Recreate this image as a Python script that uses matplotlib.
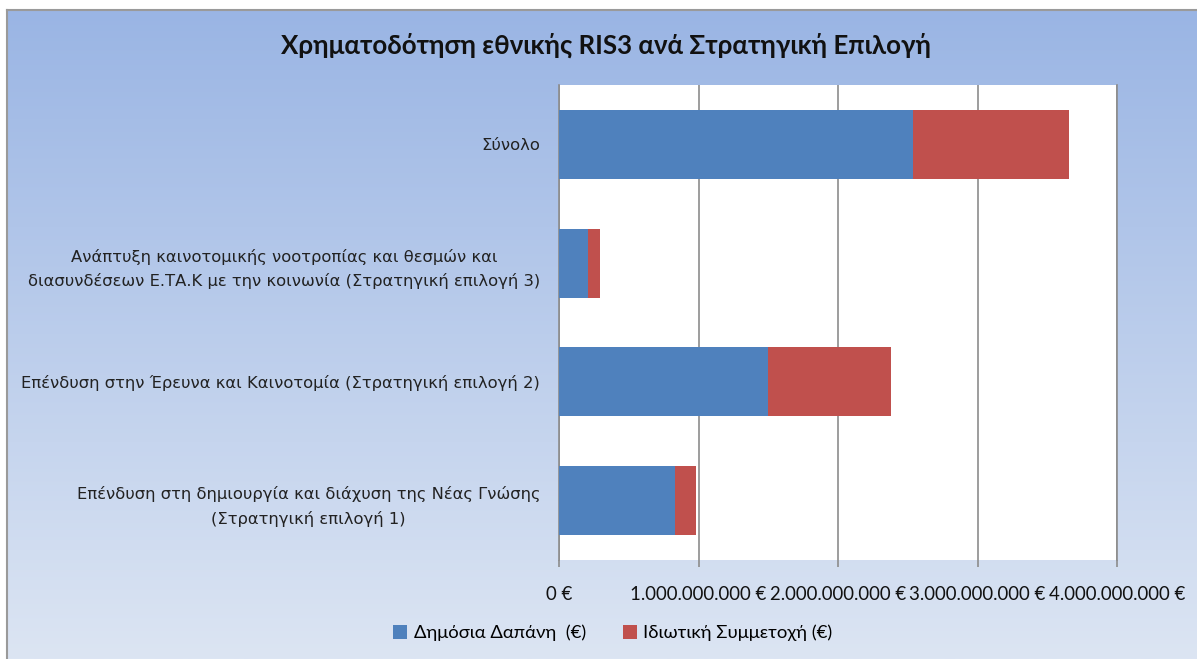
import numpy as np
import matplotlib
matplotlib.use("Agg")
import matplotlib.pyplot as plt
from matplotlib.ticker import FuncFormatter
from matplotlib.patches import Patch

# Funding per strategic choice (euro), listed bottom to top
categories = [
    "Επένδυση στη δημιουργία και διάχυση της Νέας Γνώσης\n(Στρατηγική επιλογή 1)",
    "Επένδυση στην Έρευνα και Καινοτομία (Στρατηγική επιλογή 2)",
    "Ανάπτυξη καινοτομικής νοοτροπίας και θεσμών και\nδιασυνδέσεων Ε.ΤΑ.Κ με την κοινωνία (Στρατηγική επιλογή 3)",
    "Σύνολο",
]
public_spending = [0.832e9, 1.500e9, 0.207e9, 2.539e9]
private_share = [0.152e9, 0.880e9, 0.086e9, 1.118e9]
x_ticks = [0, 1e9, 2e9, 3e9, 4e9]

series_names = ["Δημόσια Δαπάνη  (€)", "Ιδιωτική Συμμετοχή (€)"]
series_colors = ["#4F81BD", "#C0504D"]

W, H = 1197, 659
fig = plt.figure(figsize=(W / 100, H / 100), dpi=100, facecolor="white")

# Gradient backdrop of the chart area
bg = fig.add_axes([7 / W, 0, 1 - 7 / W, 1 - 10 / H])
grad = np.linspace(0, 1, 256).reshape(-1, 1)
top = np.array([0x9A, 0xB5, 0xE4]) / 255
bot = np.array([0xDC, 0xE5, 0xF3]) / 255
img = top[None, None, :] * (1 - grad[:, :, None]) + bot[None, None, :] * grad[:, :, None]
bg.imshow(img, aspect="auto", extent=[0, 1, 0, 1], origin="upper")
bg.set_xticks([])
bg.set_yticks([])
for side in ("right", "bottom"):
    bg.spines[side].set_visible(False)
for side in ("left", "top"):
    bg.spines[side].set_color("#9A9A9A")
    bg.spines[side].set_linewidth(1.5)

# Plot area
ax = fig.add_axes([559 / W, 1 - 560 / H, (1117 - 559) / W, (560 - 85) / H])
ax.set_facecolor("white")
y = np.arange(len(categories))
ax.barh(y, public_spending, height=0.58, color=series_colors[0], zorder=3)
ax.barh(y, private_share, left=public_spending, height=0.58, color=series_colors[1], zorder=3)

ax.set_xlim(0, 4e9)
ax.set_ylim(-0.5, len(categories) - 0.5)
ax.set_xticks(x_ticks)


def euro(v, _):
    if v == 0:
        return "0 €"
    return f"{int(v):,}".replace(",", ".") + " €"


ax.xaxis.set_major_formatter(FuncFormatter(euro))
ax.grid(axis="x", color="#8C8C8C", linewidth=1.2, zorder=0)
ax.set_yticks(y)
ax.set_yticklabels(categories, fontsize=11.8, family="DejaVu Sans", color="#222222",
                   linespacing=1.65, ha="right", multialignment="center")
ax.tick_params(axis="y", length=0, pad=13.5)
ax.tick_params(axis="x", length=5, color="#8C8C8C", width=1.2, pad=14,
               labelsize=13.4, labelcolor="#111111")
for lab in ax.get_xticklabels():
    lab.set_family("Lato")
for side in ("top", "bottom"):
    ax.spines[side].set_visible(False)
ax.spines["left"].set_color("#8C8C8C")
ax.spines["left"].set_linewidth(1.2)
ax.spines["right"].set_color("#8C8C8C")
ax.spines["right"].set_linewidth(1.2)

fig.text(0.506, 1 - 45 / H, "Χρηματοδότηση εθνικής RIS3 ανά Στρατηγική Επιλογή",
         ha="center", va="center", fontsize=18.6, fontweight="bold", family="Lato",
         color="#111111")

handles = [Patch(facecolor=c, edgecolor="none") for c in series_colors]
fig.legend(handles, series_names, loc="center", bbox_to_anchor=(0.512, 1 - 633 / H),
           ncol=2, frameon=False, prop={"family": "Lato", "size": 13.3},
           handlelength=0.75, handleheight=0.75, handletextpad=0.35, columnspacing=2.0)

fig.savefig("out.png", dpi=100, facecolor=fig.get_facecolor())
